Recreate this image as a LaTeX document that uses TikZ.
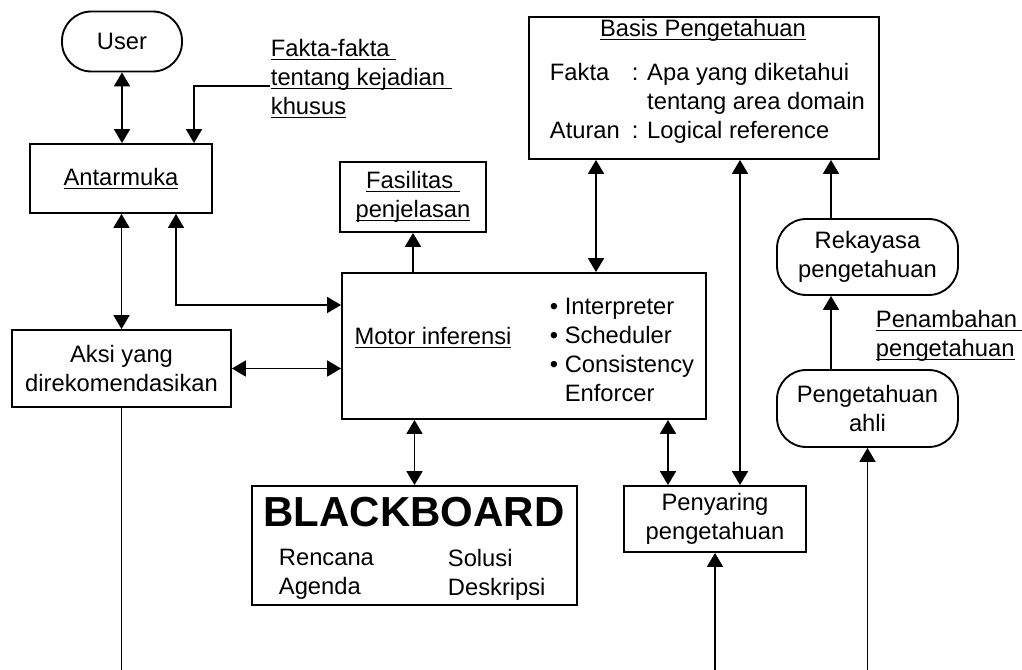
\documentclass[tikz,border=0pt]{standalone}
\usepackage{fontspec}
\setmainfont{Liberation Sans}
\usetikzlibrary{arrows.meta}
\newcommand{\ulbar}[1]{\setbox0\hbox{#1}\rlap{\rule[-2.4pt]{\wd0}{0.8pt}}\box0}

\begin{document}
\begin{tikzpicture}[x=0.75pt, y=-0.75pt, line width=1.4pt,
  font=\fontsize{17.8}{21.75}\selectfont,
  boxnode/.style={draw, rectangle, align=center, inner sep=0pt},
  pillnode/.style={boxnode, rounded corners=22pt},
  txtnode/.style={align=left, inner sep=0pt},
  onearrow/.style={-{Triangle[width=12pt,length=10.5pt]}},
  twoarrow/.style={{Triangle[width=12pt,length=10.5pt]}-{Triangle[width=12pt,length=10.5pt]}}]

\useasboundingbox (0,0) rectangle (1022,670);

% -------- Boxes -----------
\node [pillnode, minimum width=90pt, minimum height=45pt] (user) at (122, 41.5) {User};
\node [boxnode, minimum width=136.5pt, minimum height=51.75pt] (antar) at (121, 178.5) {\ulbar{Antarmuka}};
\node [boxnode, minimum width=109.5pt, minimum height=52.5pt] (fasil) at (413, 197) {\ulbar{Fasilitas }\\\ulbar{penjelasan}};
\node [boxnode, minimum width=164.25pt, minimum height=57.75pt] (aksi) at (121.5, 368.5) {Aksi yang\\direkomendasikan};
\node [boxnode, minimum width=273pt, minimum height=109.5pt] (motor) at (524, 346) {};
\node [boxnode, minimum width=243.75pt, minimum height=89.25pt] (black) at (414.5, 545.5) {};
\node [boxnode, minimum width=136.5pt, minimum height=49.5pt] (penyar) at (715, 519) {Penyaring\\pengetahuan};
\node [boxnode, minimum width=262.5pt, minimum height=106.5pt] (basis) at (704, 88) {};
\node [pillnode, minimum width=135.75pt, minimum height=57pt] (rekaya) at (867.5, 257) {Rekayasa\\pengetahuan};
\node [pillnode, minimum width=135.75pt, minimum height=57.75pt] (ahli) at (867.5, 408.5) {Pengetahuan\\ahli};

% -------- Texts -----------
\node [txtnode, anchor=north west] (fakta) at (270, 38.5) {\ulbar{Fakta-fakta }\\\ulbar{tentang kejadian }\\\ulbar{khusus}};
\node [anchor=base, inner sep=0pt] (motorlbl) at (433, 345) {\ulbar{Motor inferensi}};
\node [txtnode, anchor=west] (motorlist) at (549, 350) {\textbullet\ Interpreter\\\textbullet\ Scheduler\\\textbullet\ Consistency\\\hphantom{\textbullet\ }Enforcer};
\node [anchor=base, inner sep=0pt] (basistitle) at (703, 37) {\ulbar{Basis Pengetahuan}};
\node [anchor=north west, inner sep=0pt] (basistxt) at (549, 59.7) {\begin{tabular}{@{}l@{\hspace{9pt}}l@{}}
  Fakta & : Apa yang diketahui\\
        & \hphantom{: }tentang area domain\\
  Aturan & : Logical reference
\end{tabular}};
\node [anchor=base, inner sep=0pt, font=\fontsize{31.5}{36}\selectfont\bfseries] (bbtitle) at (414, 527) {BLACKBOARD};
\node [txtnode, anchor=north west] (bbleft) at (278, 548) {Rencana\\Agenda};
\node [txtnode, anchor=north west] (bbright) at (447, 548) {Solusi\\Deskripsi};
\node [txtnode, anchor=north west] (tambah) at (875, 309.5) {\ulbar{Penambahan }\\\ulbar{pengetahuan}};

% -------- Connectors -----------
\coordinate (bot) at (0, 670);
\coordinate (fk) at (194, 86);
\coordinate (am) at (176, 305);
\coordinate (mp) at (668, 0);
\coordinate (bm) at (596, 0);
\coordinate (bp) at (740, 0);
\coordinate (rb) at (831, 0);

\draw [twoarrow] (user.south) -- (antar.north -| user.south);
\draw [onearrow] (fakta.west |- fk) -| (antar.north -| fk);
\draw [twoarrow] (antar.south -| aksi.north) -- (aksi.north);
\draw [twoarrow] (antar.south -| am) |- (motor.west |- am);
\draw [twoarrow] (aksi.east) -- (motor.west |- aksi.east);
\draw (aksi.south) -- (aksi.south |- bot);
\draw [onearrow] (motor.north -| fasil.south) -- (fasil.south);
\draw [twoarrow] (motor.south -| black.north) -- (black.north);
\draw [twoarrow] (motor.south -| mp) -- (penyar.north -| mp);
\draw [twoarrow] (basis.south -| bm) -- (motor.north -| bm);
\draw [twoarrow] (basis.south -| bp) -- (penyar.north -| bp);
\draw [onearrow] (rekaya.north -| rb) -- (basis.south -| rb);
\draw [onearrow] (ahli.north -| rb) -- (rekaya.south -| rb);
\draw [onearrow] (penyar.south |- bot) -- (penyar.south);
\draw [onearrow] (ahli.south |- bot) -- (ahli.south);
\end{tikzpicture}
\end{document}
